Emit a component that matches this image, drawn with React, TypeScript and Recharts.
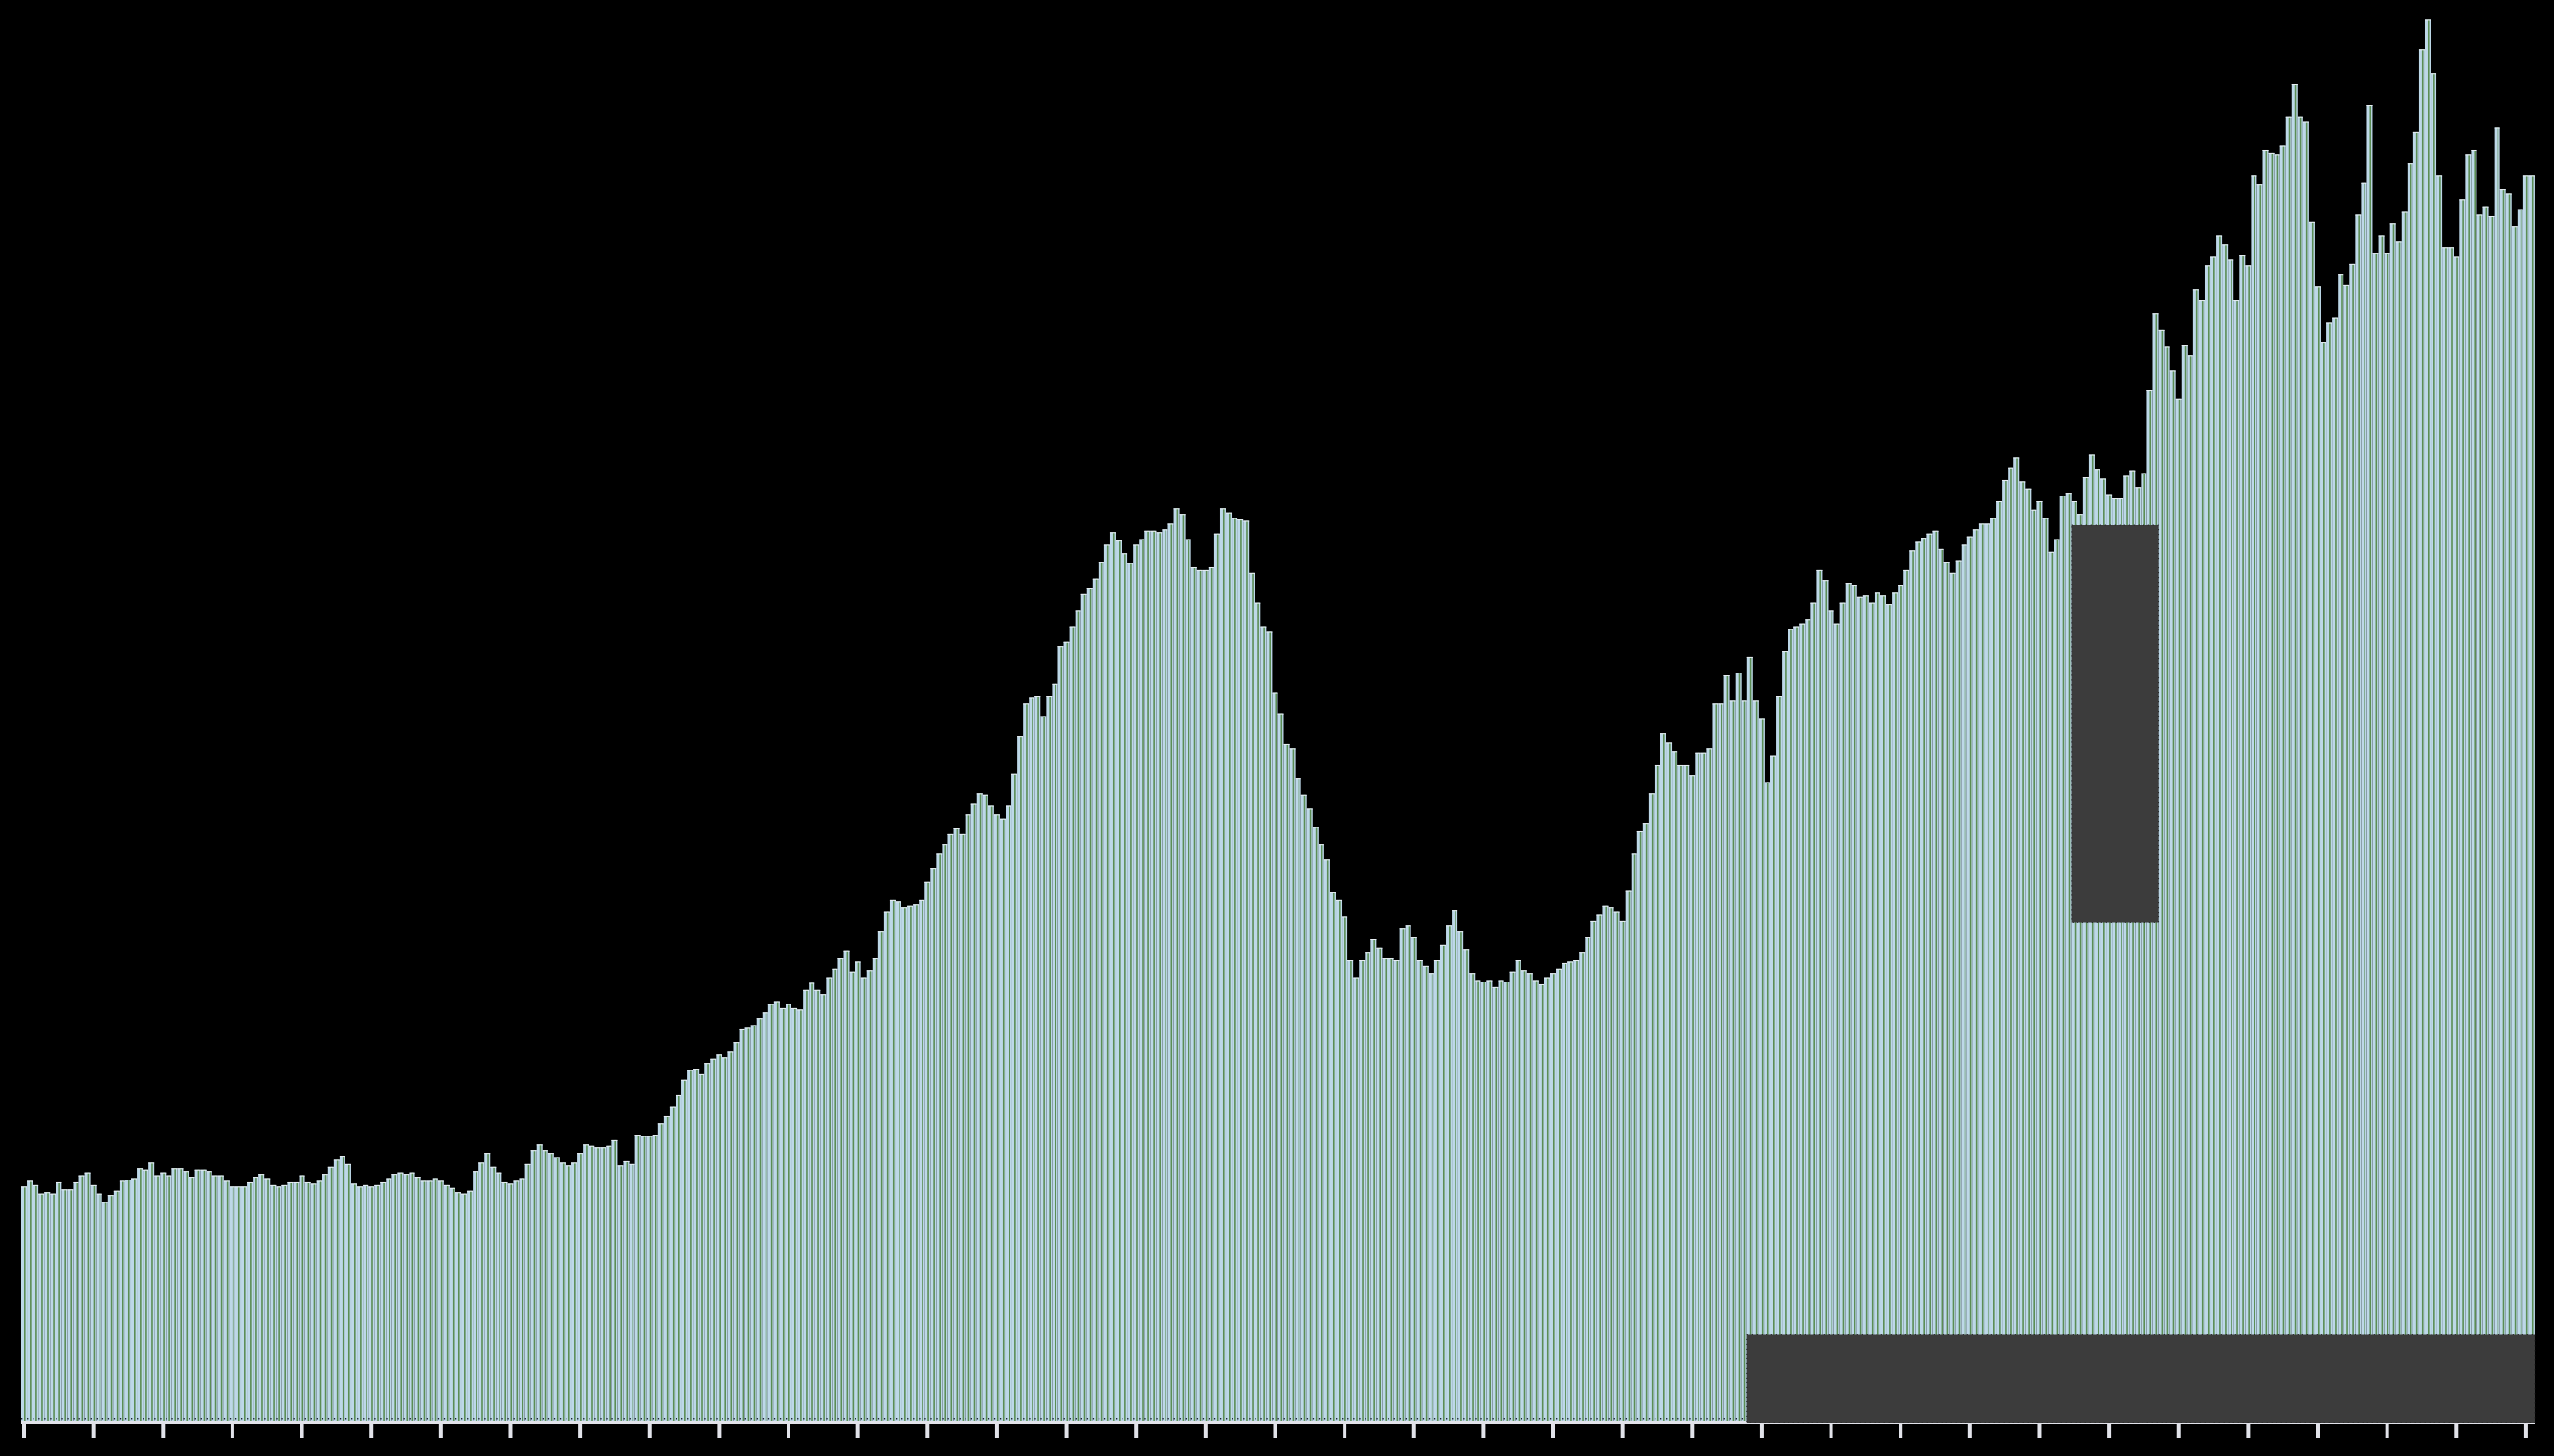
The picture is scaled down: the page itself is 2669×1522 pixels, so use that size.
import { Bar, BarChart, ReferenceArea, XAxis, YAxis } from "recharts";

// monthly index values, one row per year (12 bars)
const values: number[] = [
  16.8, 17.2, 16.9, 16.3, 16.4, 16.3, 17.1, 16.6, 16.6, 17.1, 17.6, 17.8,
  16.9, 16.3, 15.7, 16.2, 16.5, 17.2, 17.3, 17.4, 18.1, 18.0, 18.5, 17.6,
  17.8, 17.6, 18.1, 18.1, 17.9, 17.5, 18.0, 18.0, 17.9, 17.6, 17.6, 17.2,
  16.8, 16.8, 16.8, 17.1, 17.5, 17.7, 17.4, 16.9, 16.8, 16.9, 17.1, 17.1,
  17.6, 17.1, 17.0, 17.2, 17.7, 18.2, 18.7, 19.0, 18.4, 17.0, 16.8, 16.9,
  16.8, 16.9, 17.1, 17.4, 17.7, 17.8, 17.7, 17.8, 17.5, 17.2, 17.2, 17.4,
  17.2, 16.9, 16.7, 16.4, 16.3, 16.5, 17.9, 18.5, 19.2, 18.2, 17.8, 17.1,
  17.0, 17.2, 17.4, 18.4, 19.4, 19.8, 19.4, 19.2, 18.9, 18.5, 18.3, 18.5,
  19.2, 19.8, 19.7, 19.6, 19.6, 19.7, 20.1, 18.3, 18.6, 18.4, 20.5, 20.4,
  20.4, 20.5, 21.3, 21.8, 22.5, 23.3, 24.4, 25.1, 25.2, 24.8, 25.6, 25.9,
  26.2, 26.0, 26.4, 27.1, 28.0, 28.1, 28.3, 28.8, 29.2, 29.8, 30.0, 29.5,
  29.8, 29.5, 29.4, 30.8, 31.3, 30.8, 30.5, 31.7, 32.3, 33.1, 33.6, 32.1,
  32.8, 31.7, 32.2, 33.1, 35.0, 36.4, 37.2, 37.1, 36.7, 36.8, 36.9, 37.2,
  38.5, 39.5, 40.5, 41.2, 41.9, 42.3, 41.9, 43.3, 44.1, 44.8, 44.7, 43.9,
  43.3, 43.0, 43.9, 46.2, 48.9, 51.2, 51.6, 51.7, 50.3, 51.7, 52.6, 55.3,
  55.6, 56.7, 57.8, 59.0, 59.4, 60.1, 61.3, 62.5, 63.4, 62.8, 61.9, 61.2,
  62.5, 62.9, 63.5, 63.5, 63.4, 63.6, 64.0, 65.1, 64.7, 62.9, 60.9, 60.7,
  60.7, 60.9, 63.3, 65.1, 64.8, 64.4, 64.3, 64.2, 60.5, 58.4, 56.7, 56.3,
  52.0, 50.5, 48.3, 48.0, 45.9, 44.7, 43.7, 42.4, 41.2, 40.1, 37.8, 37.2,
  36.0, 32.9, 31.7, 32.9, 33.5, 34.4, 33.8, 33.1, 33.1, 32.9, 35.2, 35.4,
  34.6, 32.9, 32.5, 32.0, 32.9, 34.0, 35.4, 36.5, 35.0, 33.7, 32.0, 31.5,
  31.4, 31.5, 31.0, 31.5, 31.4, 32.1, 32.9, 32.2, 32.0, 31.5, 31.2, 31.7,
  32.0, 32.3, 32.7, 32.8, 32.9, 33.5, 34.6, 35.7, 36.2, 36.8, 36.7, 36.4,
  35.7, 37.9, 40.5, 42.1, 42.7, 44.8, 46.8, 49.1, 48.4, 47.8, 46.8, 46.8,
  46.1, 47.7, 47.7, 48.0, 51.2, 51.2, 53.2, 51.4, 53.4, 51.4, 54.5, 51.4,
  50.1, 45.6, 47.5, 51.7, 54.9, 56.5, 56.7, 56.9, 57.2, 58.4, 60.7, 60.0,
  57.8, 56.9, 58.4, 59.8, 59.6, 58.8, 58.9, 58.4, 59.1, 58.9, 58.3, 59.1,
  59.6, 60.7, 62.1, 62.7, 63.0, 63.3, 63.5, 62.2, 61.3, 60.5, 61.4, 62.5,
  63.1, 63.6, 64.0, 64.0, 64.4, 65.6, 67.1, 68.0, 68.7, 67.0, 66.5, 65.0,
  65.6, 64.4, 62.0, 62.9, 66.0, 66.2, 65.6, 64.7, 67.3, 68.9, 67.9, 67.2,
  66.1, 65.8, 65.8, 67.4, 67.8, 66.6, 67.6, 73.5, 79.0, 77.8, 76.6, 74.9,
  72.9, 76.7, 76.0, 80.7, 79.9, 82.4, 83.0, 84.5, 83.9, 82.8, 79.9, 83.1,
  82.4, 88.8, 88.2, 90.6, 90.4, 90.3, 90.9, 93.0, 95.3, 93.0, 92.6, 85.5,
  80.9, 76.9, 78.3, 78.7, 81.8, 81.0, 82.5, 86.0, 88.3, 93.8, 83.3, 84.5,
  83.3, 85.4, 84.1, 86.2, 89.7, 91.9, 97.8, 99.9, 96.1, 88.8, 83.7, 83.7,
  83.0, 87.1, 90.3, 90.6, 86.0, 86.6, 85.9, 92.2, 87.8, 87.5, 85.2, 86.4,
  88.8, 88.8,
];

// month index of each bar
const months: number[] = values.map((_, i) => i);

// one tick per year, at the first month
const yearTicks: number[] = [
  0, 12, 24, 36, 48, 60, 72, 84, 96, 108, 120, 132, 144, 156, 168, 180, 192,
  204, 216, 228, 240, 252, 264, 276, 288, 300, 312, 324, 336, 348, 360, 372,
  384, 396, 408, 420, 432,
];

// shaded blocks (month range, value range)
const lowerBlock = { x1: 298, x2: 433, y1: 0, y2: 6.3 };
const middleBlock = { x1: 354, x2: 368, y1: 35.6, y2: 63.9 };

const data = months.map((m, i) => ({ month: m, value: values[i] }));

const AXIS = "#e2e3ea";

function StripedBar(props: any) {
  const { x, y, width, height } = props;
  if (!height || height <= 0) return null;
  const bottom = y + height;
  return (
    <g>
      <rect x={x} y={y} width={width} height={height} fill="#bdd8e8" />
      <rect x={x + width * 0.5} y={y} width={1.6} height={height} fill="#5b8d55" />
      <line x1={x} x2={x + width} y1={y + 0.5} y2={y + 0.5} stroke="#e8eef2" strokeWidth={1} />
      <rect x={x} y={bottom - 5} width={1.3} height={1.5} fill="#1c2430" />
    </g>
  );
}

const NoLabel = () => <g />;

export default function App() {
  return (
    <div style={{ position: "absolute", left: 0, top: 0, width: 2669, height: 1522, background: "#000" }}>
      <BarChart
        width={2669}
        height={1522}
        data={data}
        barCategoryGap={0}
        barGap={0}
        margin={{ top: 19, right: 20, bottom: 15, left: 22 }}
      >
        <XAxis
          dataKey="month"
          type="category"
          ticks={yearTicks}
          interval={0}
          tick={NoLabel}
          tickSize={16}
          height={20}
          axisLine={{ stroke: AXIS, strokeWidth: 4 }}
          tickLine={{ stroke: AXIS, strokeWidth: 4 }}
        />
        <YAxis hide domain={[0, 100]} allowDataOverflow />
        <Bar dataKey="value" shape={StripedBar} isAnimationActive={false} />
        <ReferenceArea
          x1={lowerBlock.x1}
          x2={lowerBlock.x2}
          y1={lowerBlock.y1}
          y2={lowerBlock.y2}
          fill="#3c3c3c"
          fillOpacity={1}
          stroke="#1a1a1a"
          strokeDasharray="1 4"
          isFront
          ifOverflow="visible"
          zIndex={700}
        />
        <ReferenceArea
          x1={middleBlock.x1}
          x2={middleBlock.x2}
          y1={middleBlock.y1}
          y2={middleBlock.y2}
          fill="#3c3c3c"
          fillOpacity={1}
          stroke="#1a1a1a"
          strokeDasharray="1 4"
          isFront
          ifOverflow="visible"
          zIndex={700}
        />
      </BarChart>
    </div>
  );
}
